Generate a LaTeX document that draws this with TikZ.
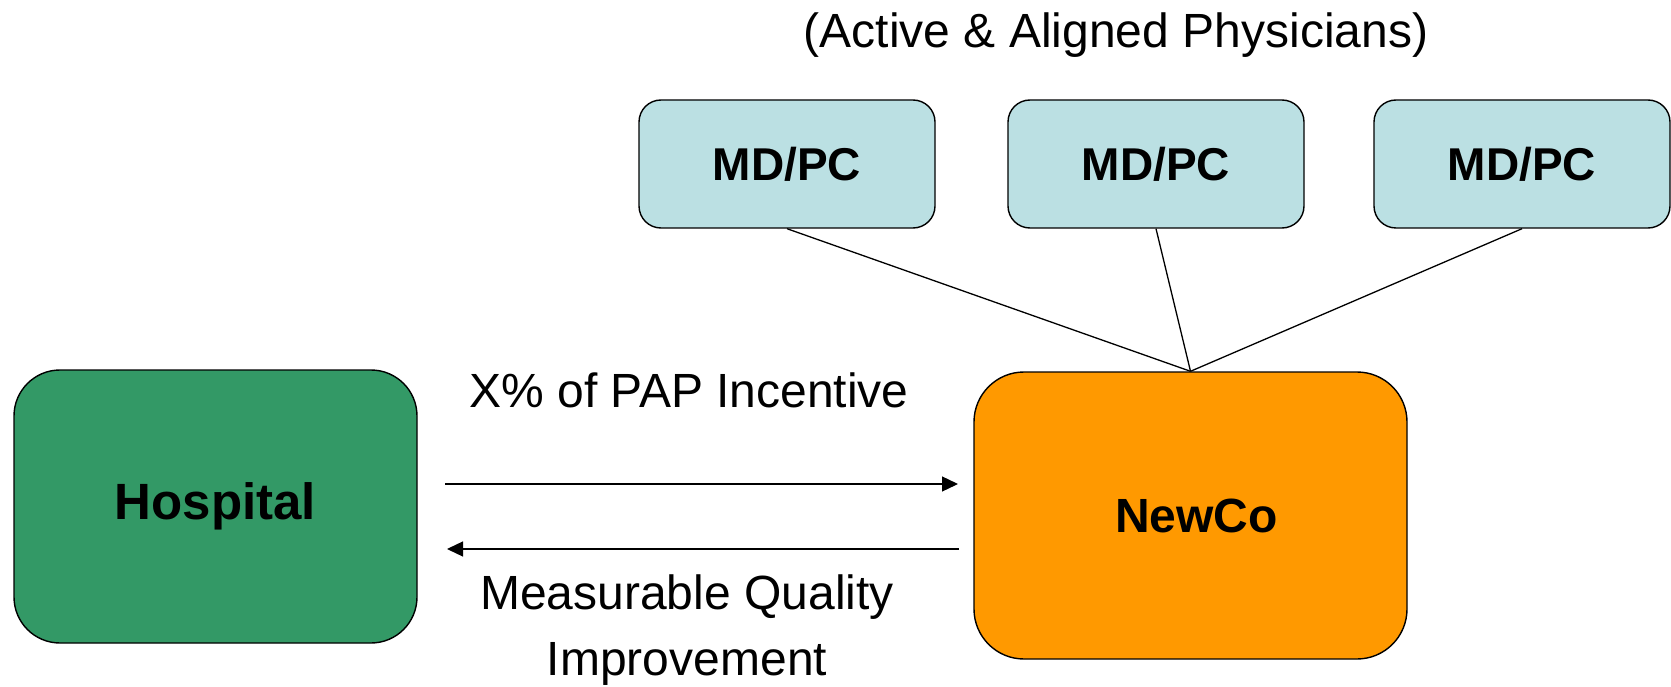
\documentclass[tikz,border=0pt]{standalone}
\usepackage{fontspec}
\setmainfont{Liberation Sans}
\usetikzlibrary{arrows.meta}
\definecolor{hospgreen}{RGB}{51,153,102}
\definecolor{mdblue}{RGB}{187,224,227}
\definecolor{neworange}{RGB}{255,153,0}
\tikzset{
  box/.style={draw=black, line width=1.4pt, inner sep=0pt, font=\bfseries\fontsize{48}{58}\selectfont},
  hospbox/.style={box, fill=hospgreen, minimum width=403pt, minimum height=273pt, rounded corners=46pt, font=\bfseries\fontsize{51}{60}\selectfont},
  mdbox/.style={box, fill=mdblue, minimum width=296pt, minimum height=128pt, rounded corners=22pt, font=\bfseries\fontsize{46}{54}\selectfont},
  newbox/.style={box, fill=neworange, minimum width=433pt, minimum height=287pt, rounded corners=50pt},
  lbl/.style={inner sep=0pt, font=\fontsize{48}{66}\selectfont},
  link/.style={line width=1.3pt},
  flow/.style={line width=1.3pt, -{Triangle[length=16pt,width=15pt]}}
}
\begin{document}
\begin{tikzpicture}[x=1pt,y=-1pt]
\useasboundingbox (0,0) rectangle (1671,687);
\node[hospbox] (hosp) at (215.5,506.5) {Hospital};
\node[newbox] (newco) at (1190.5,515.5) {\hspace*{12pt}NewCo};
\node[mdbox] (md1) at (787,164) {MD/PC};
\node[mdbox] (md2) at (1156,164) {MD/PC};
\node[mdbox] (md3) at (1522,164) {MD/PC};
\draw[link] (md1.south) -- (newco.north);
\draw[link] (md2.south) -- (newco.north);
\draw[link] (md3.south) -- (newco.north);
\coordinate (a1s) at (445,484);
\coordinate (a1e) at (958,484);
\coordinate (a2s) at (959,549);
\coordinate (a2e) at (447,549);
\draw[flow] (a1s) -- (a1e);
\draw[flow] (a2s) -- (a2e);
\node[lbl, anchor=base] (top) at (1116,48) {(Active \& Aligned Physicians)};
\node[lbl, anchor=base] (inc) at (689,407) {X\% of PAP Incentive};
\node[lbl, align=center] (mqi) at (687,630) {Measurable Quality\\Improvement};
\end{tikzpicture}
\end{document}
